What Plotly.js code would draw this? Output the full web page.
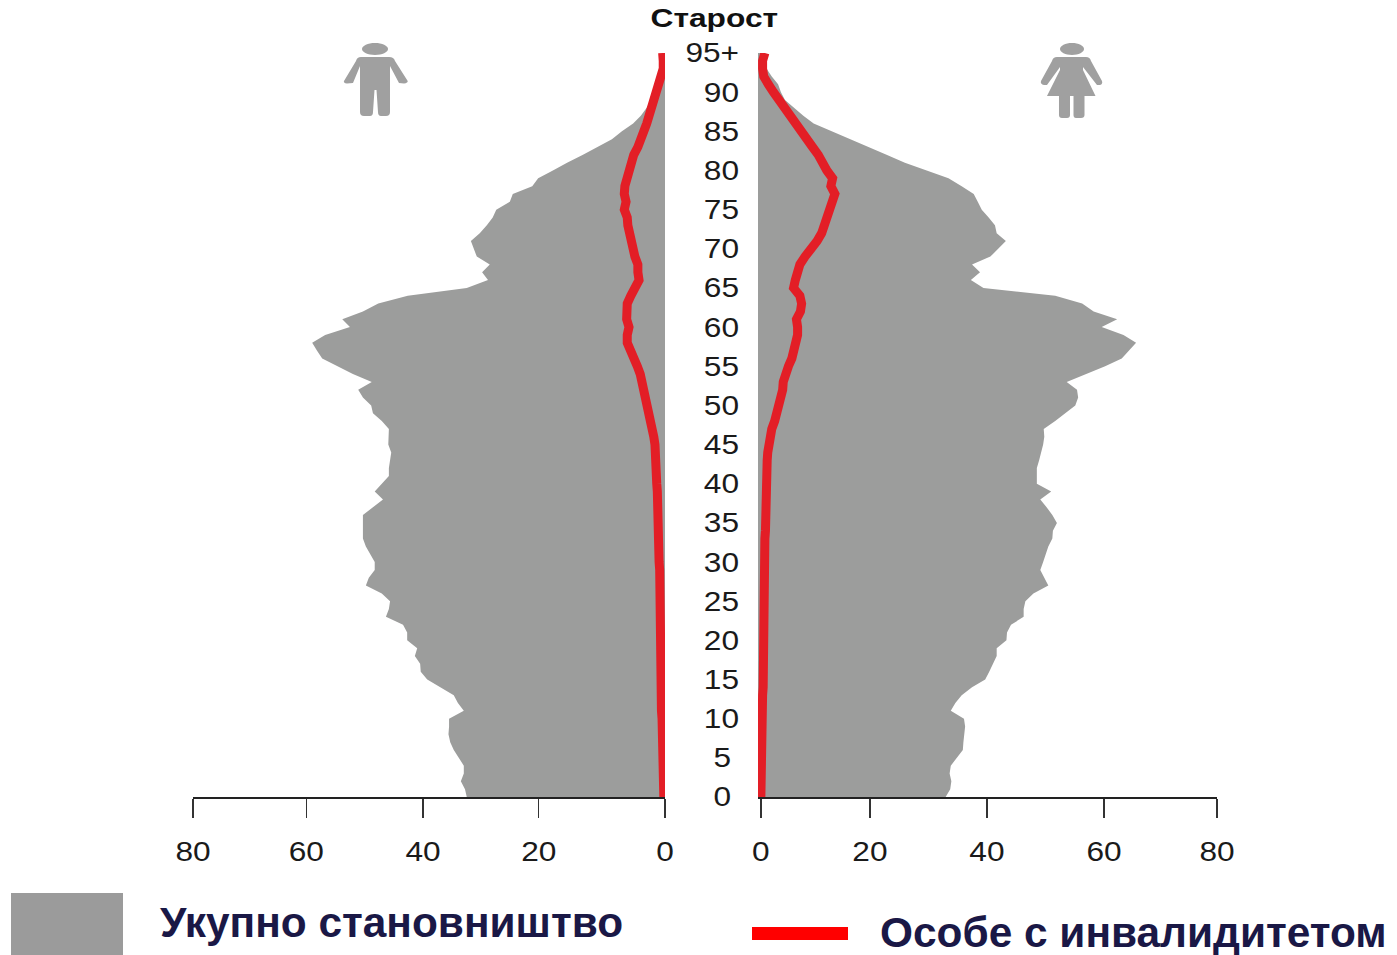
<!DOCTYPE html>
<html>
<head>
<meta charset="utf-8">
<script src="https://cdn.plot.ly/plotly-3.0.1.min.js"></script>
<style>html,body{margin:0;padding:0;background:#fff}#chart{width:1397px;height:955px}</style>
</head>
<body>
<div id="chart"></div>
<script>
const ages = [];
for (let a = 0; a <= 95; a++) ages.push(a);

const maleTotal = [33.6,33.9,34.6,34.1,34.1,34.9,35.8,36.4,36.7,36.6,36.6,34.1,35.1,35.8,38.1,40.3,41.4,41.5,42.4,42.0,
43.7,43.7,44.4,47.3,46.8,46.6,48.0,50.7,50.2,49.2,49.2,50.0,50.7,51.2,51.2,51.2,51.2,49.5,47.8,49.2,
48.0,46.8,46.8,46.6,46.4,46.9,46.9,46.8,48.0,49.5,49.8,51.2,52.0,49.7,52.9,55.6,58.1,59.0,59.8,57.6,
53.4,54.7,51.2,48.6,43.6,33.6,30.0,31.0,29.7,31.9,32.4,32.9,31.4,30.2,29.2,28.6,26.3,25.8,22.5,21.5,
19.0,16.6,13.9,11.4,9.0,7.3,5.4,4.1,3.1,2.4,1.9,1.2,0.7,0.3,0.2,0.1];

const femaleTotal = [32.7,33.5,33.7,33.4,33.6,34.7,35.7,35.8,35.9,36.1,35.9,33.6,34.4,35.5,37.3,39.6,40.3,40.9,41.6,41.6,
43.3,43.4,44.1,46.3,46.3,46.6,48.0,50.6,49.9,49.2,49.7,50.2,50.6,51.3,51.4,52.1,51.3,50.3,49.2,51.1,
48.6,48.6,48.6,49.0,49.4,49.7,49.9,49.8,51.8,53.5,55.3,55.8,55.6,53.8,57.3,60.5,63.4,64.6,65.9,63.7,
59.9,62.6,58.5,56.5,51.8,39.3,37.1,38.7,37.3,40.5,41.9,43.2,41.6,41.3,40.2,39.0,38.3,37.6,35.5,33.2,
29.4,25.6,22.4,19.2,16.0,12.6,9.7,7.9,6.2,4.7,4.0,3.5,2.4,1.5,0.9,0.6];

const maleDisabled = [0.2,0.2,0.3,0.3,0.4,0.4,0.4,0.5,0.5,0.5,0.5,0.6,0.6,0.6,0.6,0.6,0.7,0.7,0.7,0.7,
0.7,0.7,0.7,0.8,0.8,0.8,0.8,0.8,0.9,0.9,1.0,1.0,1.0,1.0,1.0,1.2,1.2,1.2,1.3,1.3,
1.4,1.4,1.4,1.4,1.5,1.7,1.9,2.2,2.3,2.5,2.9,3.2,3.6,3.8,4.2,4.7,5.4,5.9,6.4,6.4,
6.1,6.5,6.4,6.4,5.8,4.9,4.4,4.6,4.6,5.1,5.4,5.9,6.3,6.3,6.4,6.9,6.6,6.9,6.8,6.4,
6.3,5.8,5.3,4.6,3.9,3.6,3.1,2.7,2.2,1.9,1.5,1.2,0.7,0.3,0.3,0.4];

const femaleDisabled = [0.5,0.5,0.5,0.6,0.6,0.6,0.7,0.7,0.7,0.7,0.8,0.8,0.8,0.8,0.9,0.9,0.9,0.9,0.9,0.9,
1.0,1.0,1.0,1.0,1.0,1.1,1.1,1.1,1.1,1.1,1.1,1.2,1.2,1.2,1.3,1.3,1.3,1.3,1.4,1.4,
1.4,1.5,1.5,1.6,1.7,1.9,2.1,2.4,2.9,3.3,3.5,4.0,4.3,4.4,4.7,5.3,5.9,6.3,6.5,6.9,
6.9,6.7,7.4,7.6,7.3,6.2,6.5,6.9,7.3,8.2,9.4,10.3,11.1,11.5,12.0,12.3,12.7,13.4,12.7,13.0,
12.0,11.4,10.5,9.5,8.5,7.3,6.3,5.3,4.3,3.4,2.7,1.8,1.0,0.8,0.8,1.2];

const ageTicks = [0,5,10,15,20,25,30,35,40,45,50,55,60,65,70,75,80,85,90,95];
const ageLabels = ['0','5','10','15','20','25','30','35','40','45','50','55','60','65','70','75','80','85','90','95+'];
const axisLabels = ['0','20','40','60','80'];
const leftTickAt = [0,21.4,41.0,60.8,80];
const rightTickAt = [0.5,19.5,39.9,60.3,80];

const GREY = '#9c9d9c', RED = '#e31e26', NAVY = '#1a1846', W = 1397, H = 955;
const FONT = 'Liberation Sans, Arial, sans-serif';
const fx = px => px / W, fy = py => 1 - py / H;

function paperPath(d) {
  let i = 0;
  return d.replace(/-?\d+(\.\d+)?/g, n => {
    const v = (i++ % 2 === 0) ? fx(+n) : fy(+n);
    return v.toFixed(5);
  });
}
const ellipse = (cx, cy, rx, ry) => {
  const k = 0.55;
  return `M${cx-rx},${cy} C${cx-rx},${cy-k*ry} ${cx-k*rx},${cy-ry} ${cx},${cy-ry} C${cx+k*rx},${cy-ry} ${cx+rx},${cy-k*ry} ${cx+rx},${cy} C${cx+rx},${cy+k*ry} ${cx+k*rx},${cy+ry} ${cx},${cy+ry} C${cx-k*rx},${cy+ry} ${cx-rx},${cy+k*ry} ${cx-rx},${cy} Z`;
};
const manBody = 'M361,57 L389,57 Q394,57 395,61 L407.7,81 Q408,83 404,83.5 L399,83 L390,66 L390,112 Q390,116 386,116 L381,116 Q378,116 378,112 L376.5,90 L374.5,90 L373,112 Q373,116 370,116 L364,116 Q360,116 360,112 L360,66 L353,83 L347,83.5 Q343,83 344,81 L356,61 Q357,57 361,57 Z';
const womanBody = 'M1057,57 L1086,57 Q1090,57 1091,61 L1102,81 Q1103,84 1100,85 L1097,85 L1083,67 L1083,70 L1095.5,96 L1084.5,96 L1084.5,115 Q1084.5,118 1081,118 L1076,118 Q1073.5,118 1073.5,115 L1073.5,96 L1070,96 L1070,115 Q1070,118 1067,118 L1062,118 Q1059,118 1059,115 L1059,96 L1047,96 L1060,70 L1060,67 L1047,85 L1044,85 Q1040,84 1041,81 L1052,61 Q1053,57 1057,57 Z';

function iconShape(d) {
  return {type:'path', xref:'paper', yref:'paper', path:paperPath(d), fillcolor:'#a0a0a0', line:{width:0}, layer:'above'};
}
function box(x0,y0,x1,y1,color) {
  return {type:'rect', xref:'paper', yref:'paper', x0:fx(x0), x1:fx(x1), y0:fy(y1), y1:fy(y0), fillcolor:color, line:{width:0}};
}

const traces = [
  {x:maleTotal, y:ages, xaxis:'x', yaxis:'y', type:'scatter', mode:'lines', fill:'tozerox', fillcolor:GREY, line:{width:0,color:GREY}, hoverinfo:'skip', cliponaxis:false},
  {x:femaleTotal, y:ages, xaxis:'x2', yaxis:'y', type:'scatter', mode:'lines', fill:'tozerox', fillcolor:GREY, line:{width:0,color:GREY}, hoverinfo:'skip', cliponaxis:false},
  {x:maleDisabled, y:ages, xaxis:'x', yaxis:'y', type:'scatter', mode:'lines', line:{width:9,color:RED}, cliponaxis:false},
  {x:femaleDisabled, y:ages, xaxis:'x2', yaxis:'y', type:'scatter', mode:'lines', line:{width:9,color:RED}, cliponaxis:false}
];

const axisCommon = {
  tickmode:'array', ticktext:axisLabels, ticks:'outside', ticklen:19, tickwidth:1.5, tickcolor:'#333',
  showline:true, linecolor:'#222', linewidth:1.5, showgrid:false, zeroline:false,
  tickfont:{family:FONT, size:27, color:'#1a1a1a'}, ticklabelstandoff:11,
  anchor:'y', tickangle:0
};

const layout = {
  width:W, height:H, paper_bgcolor:'#fff', plot_bgcolor:'rgba(0,0,0,0)',
  margin:{l:0,r:0,t:0,b:0}, showlegend:false, hovermode:false,
  xaxis:Object.assign({}, axisCommon, {domain:[fx(193),fx(665)], range:[80,0], tickvals:leftTickAt}),
  xaxis2:Object.assign({}, axisCommon, {domain:[fx(758),fx(1217)], range:[0,80], tickvals:rightTickAt}),
  yaxis:{domain:[fy(797),fy(53)], range:[0,95], anchor:'free', position:fx(739), side:'left',
    tickmode:'array', tickvals:ageTicks, ticktext:ageLabels, ticks:'', showline:false, showgrid:false, zeroline:false,
    tickfont:{family:FONT, size:27, color:'#1a1a1a'}},
  shapes:[
    iconShape(ellipse(375,49,13,6)), iconShape(manBody),
    iconShape(ellipse(1072,49,12,6)), iconShape(womanBody),
    box(11,893,123,955,'#9b9b9b'), box(752,927,848,940,'#ff0000')
  ],
  annotations:[
    {xref:'paper',yref:'paper',x:fx(714.5),y:fy(18),xanchor:'center',yanchor:'middle',showarrow:false,text:'Старост',
      font:{family:FONT,size:26,weight:700,color:'#111'}},
    {xref:'paper',yref:'paper',x:fx(158),y:fy(922),xanchor:'left',yanchor:'middle',showarrow:false,text:'Укупно становништво',
      font:{family:FONT,size:42.4,weight:700,color:NAVY}},
    {xref:'paper',yref:'paper',x:fx(878),y:fy(932),xanchor:'left',yanchor:'middle',showarrow:false,text:'Особе с инвалидитетом',
      font:{family:FONT,size:42.4,weight:700,color:NAVY}}
  ]
};
Plotly.newPlot('chart', traces, layout, {displayModeBar:false, staticPlot:true}).then(gd => {
  // The reference's small labels are about 1.2x wider than the typeface: stretch them as real text.
  const stretch = (el, factor) => {
    el.setAttribute('lengthAdjust', 'spacingAndGlyphs');
    el.setAttribute('textLength', (el.getComputedTextLength() * factor).toFixed(1));
  };
  gd.querySelectorAll('.xtick text, .x2tick text, .ytick text').forEach(t => stretch(t, 1.17));
  gd.querySelectorAll('.ytick text').forEach(t => {
    if (t.textContent.length === 1) t.setAttribute('x', +t.getAttribute('x') - 8);
  });
  const title = Array.from(gd.querySelectorAll('.annotation text')).find(t => t.textContent === 'Старост');
  if (title) stretch(title, 1.22);
});
</script>
</body>
</html>
